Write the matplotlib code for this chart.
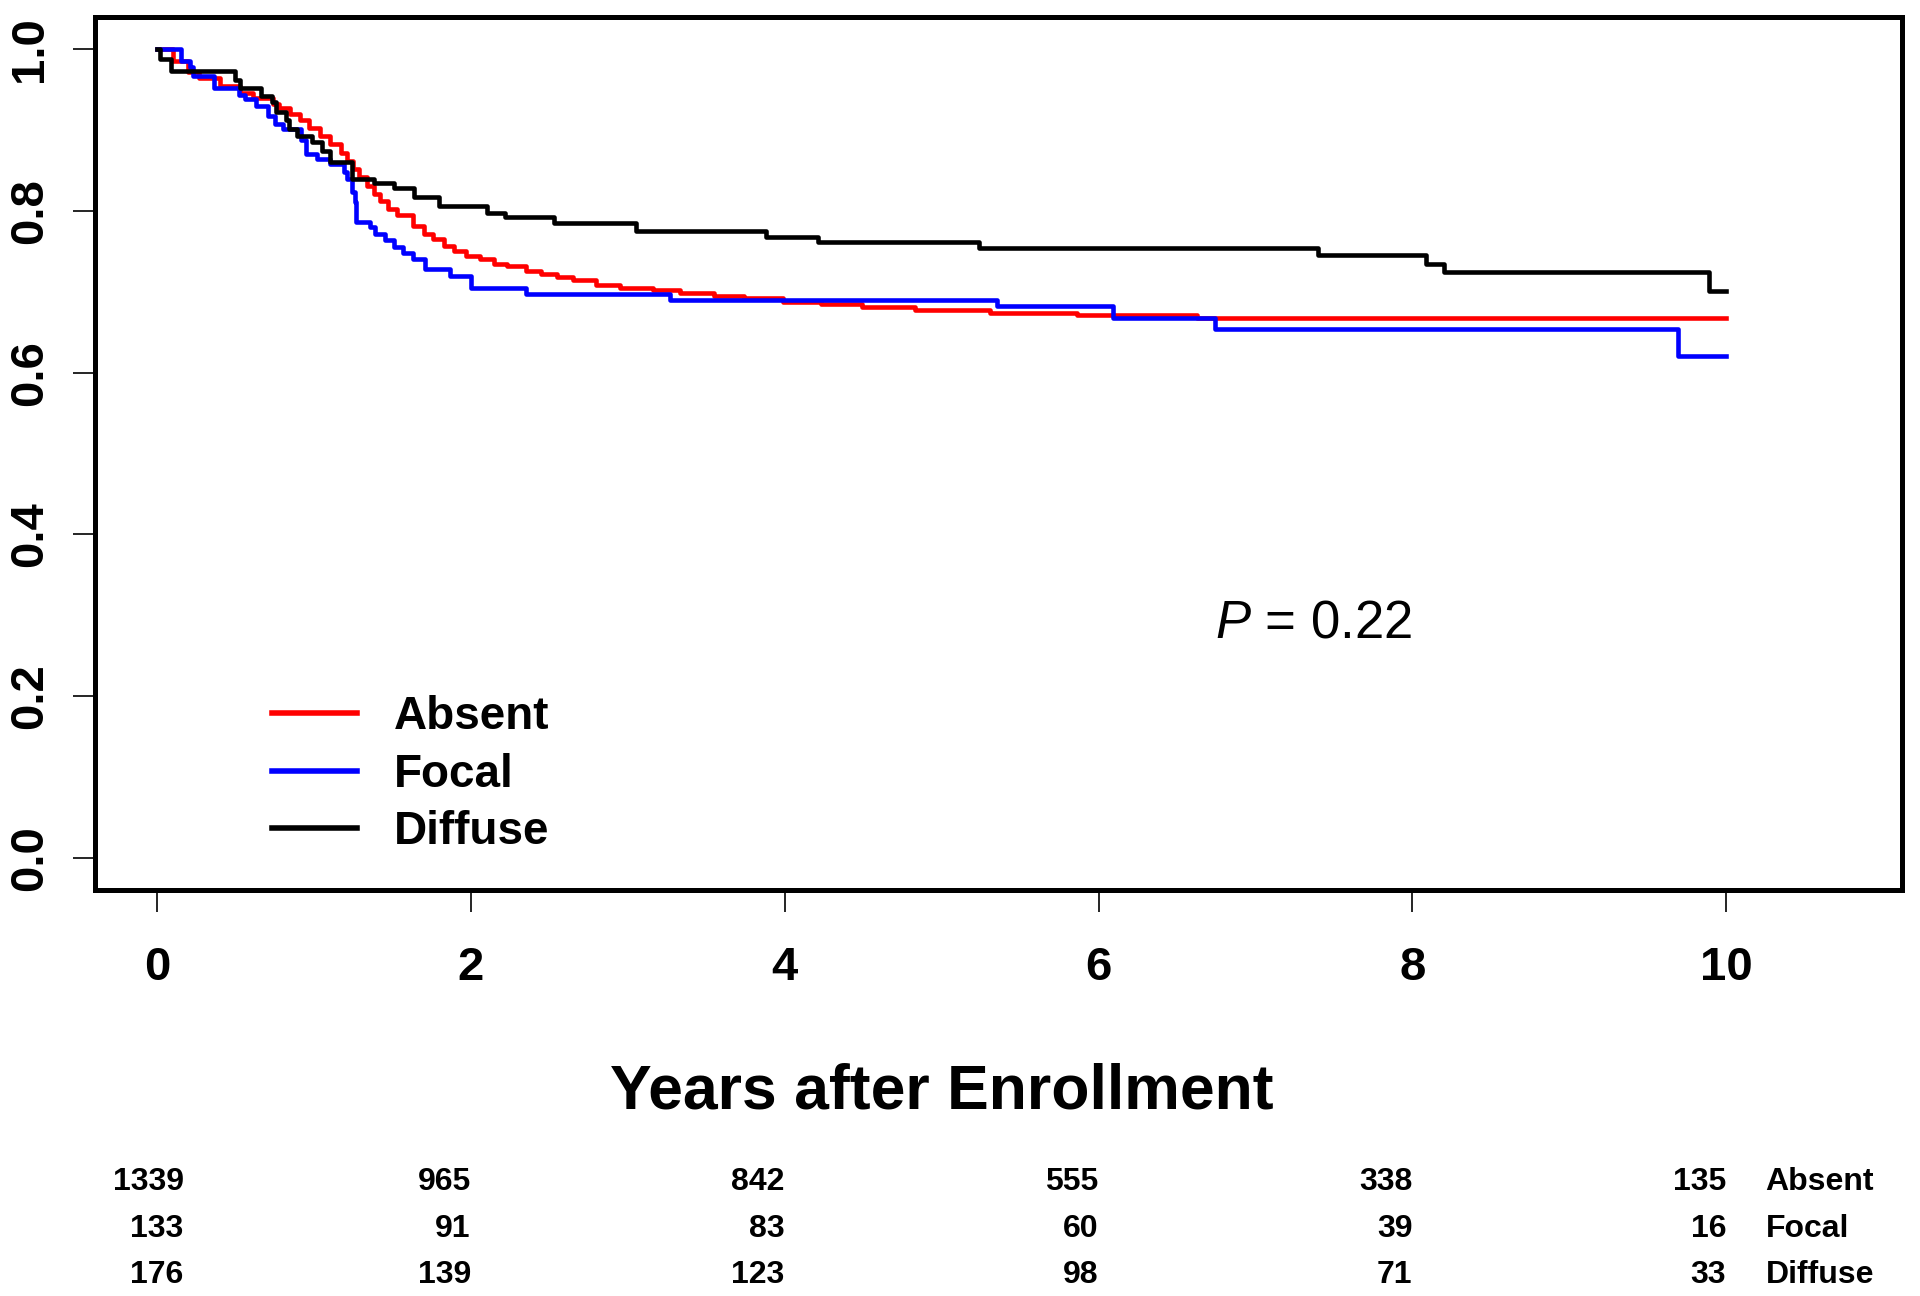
import matplotlib
matplotlib.use("Agg")
import matplotlib.pyplot as plt
from matplotlib import font_manager

# Kaplan-Meier style step curves (years, survival)
absent_t = [0, 0.10, 0.20, 0.27, 0.40, 0.53, 0.61, 0.74, 0.78, 0.85, 0.91, 0.97, 1.04, 1.10, 1.17, 1.21,
            1.25, 1.29, 1.34, 1.38, 1.42, 1.47, 1.53, 1.63, 1.70, 1.76, 1.83, 1.89, 1.97, 2.06, 2.15, 2.23,
            2.35, 2.45, 2.55, 2.65, 2.80, 2.95, 3.16, 3.33, 3.55, 3.74, 3.99, 4.23, 4.49, 4.83, 5.31, 5.86,
            6.63, 10.0]
absent_s = [1.0, 0.985, 0.972, 0.965, 0.955, 0.946, 0.940, 0.932, 0.928, 0.920, 0.913, 0.903, 0.893, 0.883,
            0.872, 0.862, 0.852, 0.842, 0.831, 0.821, 0.812, 0.803, 0.795, 0.782, 0.772, 0.765, 0.757, 0.751,
            0.744, 0.740, 0.735, 0.732, 0.726, 0.722, 0.718, 0.715, 0.709, 0.705, 0.702, 0.698, 0.695, 0.692,
            0.688, 0.685, 0.681, 0.678, 0.674, 0.671, 0.668, 0.668]

focal_t = [0, 0.15, 0.21, 0.23, 0.36, 0.52, 0.56, 0.63, 0.71, 0.75, 0.80, 0.92, 0.95, 1.02, 1.10, 1.19,
           1.21, 1.24, 1.26, 1.27, 1.36, 1.39, 1.45, 1.51, 1.57, 1.63, 1.71, 1.87, 2.0, 2.35, 3.27, 5.35,
           6.09, 6.74, 9.69, 10.0]
focal_s = [1.0, 0.985, 0.978, 0.967, 0.952, 0.944, 0.938, 0.930, 0.918, 0.907, 0.901, 0.888, 0.870, 0.864,
           0.858, 0.848, 0.839, 0.823, 0.811, 0.786, 0.780, 0.772, 0.764, 0.756, 0.748, 0.740, 0.728, 0.720,
           0.705, 0.697, 0.690, 0.682, 0.667, 0.654, 0.621, 0.621]

diffuse_t = [0, 0.02, 0.09, 0.50, 0.53, 0.66, 0.73, 0.76, 0.82, 0.84, 0.89, 0.99, 1.05, 1.10, 1.24, 1.38,
             1.51, 1.64, 1.80, 2.10, 2.22, 2.53, 3.05, 3.88, 4.21, 5.24, 7.40, 8.09, 8.20, 9.89, 10.0]
diffuse_s = [1.0, 0.988, 0.973, 0.962, 0.952, 0.942, 0.935, 0.922, 0.912, 0.901, 0.893, 0.885, 0.874, 0.860,
             0.840, 0.835, 0.829, 0.817, 0.806, 0.798, 0.792, 0.785, 0.775, 0.768, 0.761, 0.754, 0.745, 0.735,
             0.724, 0.701, 0.701]

groups = ["Absent", "Focal", "Diffuse"]
colors = ["#ff0000", "#0000ff", "#000000"]

# number at risk table
risk_times = [0, 2, 4, 6, 8, 10]
risk_absent = [1339, 965, 842, 555, 338, 135]
risk_focal = [133, 91, 83, 60, 39, 16]
risk_diffuse = [176, 139, 123, 98, 71, 33]

p_text = "0.22"

installed = {f.name for f in font_manager.fontManager.ttflist}
narrow = "Liberation Sans Narrow" if "Liberation Sans Narrow" in installed else "Liberation Sans"
plt.rcParams["font.family"] = [narrow, "DejaVu Sans"]
plt.rcParams["mathtext.fontset"] = "custom"
plt.rcParams["mathtext.it"] = "Liberation Sans:italic"
plt.rcParams["mathtext.rm"] = "Liberation Sans"

fig = plt.figure(figsize=(19.2, 12.96), dpi=100)
ax = fig.add_axes([0.0495, 0.3133, 0.9411, 0.6736])

for t, s, c, g in zip([absent_t, focal_t, diffuse_t], [absent_s, focal_s, diffuse_s], colors, groups):
    ax.plot(t, s, drawstyle="steps-post", color=c, lw=3.3, label=g)

ax.set_xlim(-0.395, 11.12)
ax.set_ylim(-0.04, 1.04)
ax.set_xticks(risk_times)
ax.set_yticks([0, 0.2, 0.4, 0.6, 0.8, 1.0])
ax.set_yticklabels(["0.0", "0.2", "0.4", "0.6", "0.8", "1.0"])
for sp in ax.spines.values():
    sp.set_linewidth(3.6)
ax.tick_params(axis="x", length=16, width=1.2, pad=24, labelsize=34)
ax.tick_params(axis="y", length=16, width=1.2, pad=15, labelsize=34, labelrotation=90)
for lab in ax.get_xticklabels() + ax.get_yticklabels():
    lab.set_fontweight("bold")
for lab in ax.get_yticklabels():
    lab.set_verticalalignment("center")

ax.text(5, -0.232, "Years after Enrollment", transform=ax.get_xaxis_transform(),
        ha="center", va="center", fontsize=45, fontweight="bold")

ax.text(6.74, 0.29, r"$\mathit{P}$ = " + p_text, ha="left", va="center", fontsize=38,
        family="Liberation Sans")

leg = ax.legend(loc="center left", bbox_to_anchor=(0.098, 0.132), frameon=False,
                handlelength=1.85, handletextpad=0.8, labelspacing=0.3, borderpad=0,
                borderaxespad=0, prop={"size": 33, "weight": "bold"})
for line in leg.get_lines():
    line.set_linewidth(4)

# number at risk rows
row_y = [-0.335, -0.388, -0.441]
for rows, y, g in zip([risk_absent, risk_focal, risk_diffuse], row_y, groups):
    for i, (t, n) in enumerate(zip(risk_times, rows)):
        xt = t + 0.17 if i == 0 else t
        ax.text(xt, y, str(n), transform=ax.get_xaxis_transform(), ha="right", va="center",
                fontsize=23, fontweight="bold", clip_on=False)
    ax.text(10.25, y, g, transform=ax.get_xaxis_transform(), ha="left", va="center",
            fontsize=23, fontweight="bold", clip_on=False)

fig.savefig("out.png", dpi=100)
